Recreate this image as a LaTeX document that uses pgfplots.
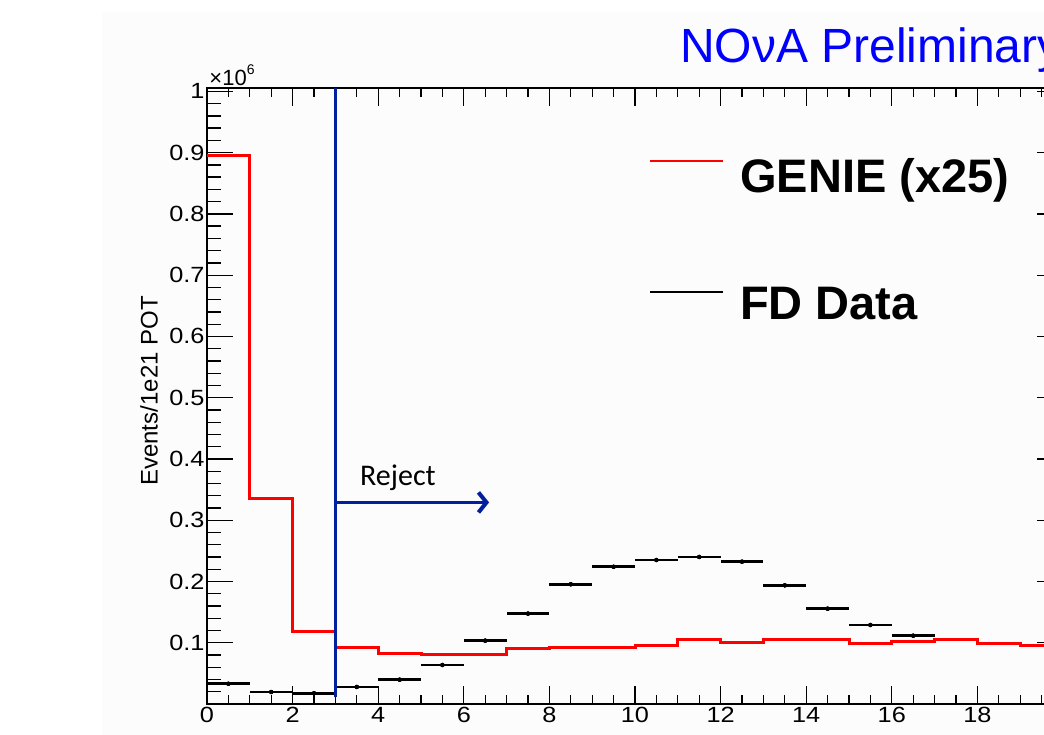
\documentclass[border=0pt]{standalone}
\usepackage{pgfplots}
\pgfplotsset{compat=1.18}
\usepackage{pgfplotstable}
\usepackage{graphicx}
\usepackage{fontspec}
\setmainfont{Liberation Sans}
\newfontfamily\calib{Carlito}
\usetikzlibrary{arrows.meta}
\definecolor{rootblue}{RGB}{0,32,160}
\definecolor{novablue}{RGB}{0,0,255}
\definecolor{bgg}{RGB}{252,252,252}
\newcommand\sx[1]{\scalebox{1.15}[1]{#1}}

\pgfplotstableread{
x y
0 0.895
1 0.335
2 0.119
3 0.092
4 0.083
5 0.0815
6 0.081
7 0.090
8 0.092
9 0.092
10 0.0963
11 0.1045
12 0.101
13 0.1055
14 0.1055
15 0.0985
16 0.1013
17 0.1045
18 0.0985
19 0.0947
20 0.0947
}\genie

\pgfplotstableread{
x y
0.5 0.033
1.5 0.0196
2.5 0.0175
3.5 0.0278
4.5 0.0397
5.5 0.0637
6.5 0.1034
7.5 0.1475
8.5 0.1954
9.5 0.224
10.5 0.235
11.5 0.240
12.5 0.2323
13.5 0.1937
14.5 0.1556
15.5 0.129
16.5 0.1115
}\fddata

\begin{document}
\begin{tikzpicture}
\fill[bgg] (-105bp,-31bp) rectangle (837bp,692bp);
\begin{axis}[
  at={(0,0)}, anchor=south west,
  scale only axis, width=856bp, height=615.7bp,
  xmin=0, xmax=20, ymin=0, ymax=1.005,
  axis line style={line width=2bp, black},
  xtick={0,2,...,18},
  xticklabels={\sx{0},\sx{2},\sx{4},\sx{6},\sx{8},\sx{10},\sx{12},\sx{14},\sx{16},\sx{18}},
  minor xtick={0,0.5,...,19.5},
  ytick={0.1,0.2,0.3,0.4,0.5,0.6,0.7,0.8,0.9,1.0},
  yticklabels={\sx{0.1},\sx{0.2},\sx{0.3},\sx{0.4},\sx{0.5},\sx{0.6},\sx{0.7},\sx{0.8},\sx{0.9},\sx{1}},
  minor ytick={0.02,0.04,0.06,0.08,0.12,0.14,0.16,0.18,0.22,0.24,0.26,0.28,0.32,0.34,0.36,0.38,0.42,0.44,0.46,0.48,0.52,0.54,0.56,0.58,0.62,0.64,0.66,0.68,0.72,0.74,0.76,0.78,0.82,0.84,0.86,0.88,0.92,0.94,0.96,0.98},
  tick align=inside,
  xtick style={line width=1.3bp, black, /pgfplots/major tick length=17.7bp, /pgfplots/minor tick length=9bp},
  ytick style={line width=1.3bp, black, /pgfplots/major tick length=26bp, /pgfplots/minor tick length=14bp},
  tick label style={font=\fontsize{22bp}{26bp}\selectfont, black},
  yticklabel style={xshift=1bp},
  scaled ticks=false,
]
\addplot[const plot, red, line width=3bp] table[x=x,y=y] {\genie};
\addplot[black, only marks, mark=none,
  error bars/.cd, x dir=both, x fixed=0.5, error mark=none,
  error bar style={line width=2.6bp, black}] table[x=x,y=y] {\fddata};
\addplot[black, only marks, mark=none,
  error bars/.cd, y dir=both, y fixed=0.0022, error mark=none,
  error bar style={line width=1bp, black}] table[x=x,y=y] {\fddata};
\draw[rootblue, line width=2.5bp] (axis cs:3,0.011) -- (axis cs:3,1.005);
\draw[rootblue, line width=2.5bp, -{Straight Barb[length=8bp, width=20bp, line width=4bp]}]
  (axis cs:3,0.329) -- (axis cs:6.59,0.329);
\end{axis}
% annotations (pixel-based positions relative to axis lower-left corner)
\node[anchor=base west, inner sep=0pt, text=novablue] at (473bp,641bp)
  {\fontsize{48bp}{56bp}\selectfont NOνA Preliminary};
\node[anchor=base west, inner sep=0pt] at (-10bp,618bp)
  {\fontsize{22bp}{26bp}\selectfont \phantom{1}×10\raisebox{0.5em}{\fontsize{14bp}{16bp}\selectfont 6}};
\node[rotate=90, anchor=center, inner sep=0pt] at (-58bp,313bp)
  {\fontsize{24bp}{28bp}\selectfont Events/1e21 POT};
\node[anchor=base west, inner sep=0pt] at (153bp,218.3bp)
  {\calib\fontsize{30bp}{36bp}\selectfont Reject};
\draw[red, line width=2bp] (443bp,543bp) -- (516bp,543bp);
\node[anchor=base west, inner sep=0pt] at (533bp,511bp)
  {\fontsize{47bp}{56bp}\selectfont\bfseries GENIE (x25)};
\draw[black, line width=2bp] (443bp,412.3bp) -- (516bp,412.3bp);
\node[anchor=base west, inner sep=0pt] at (533bp,384bp)
  {\fontsize{47bp}{56bp}\selectfont\bfseries FD Data};
\pgfresetboundingbox
\useasboundingbox (-207bp,-31bp) rectangle (837bp,704bp);
\end{tikzpicture}
\end{document}
